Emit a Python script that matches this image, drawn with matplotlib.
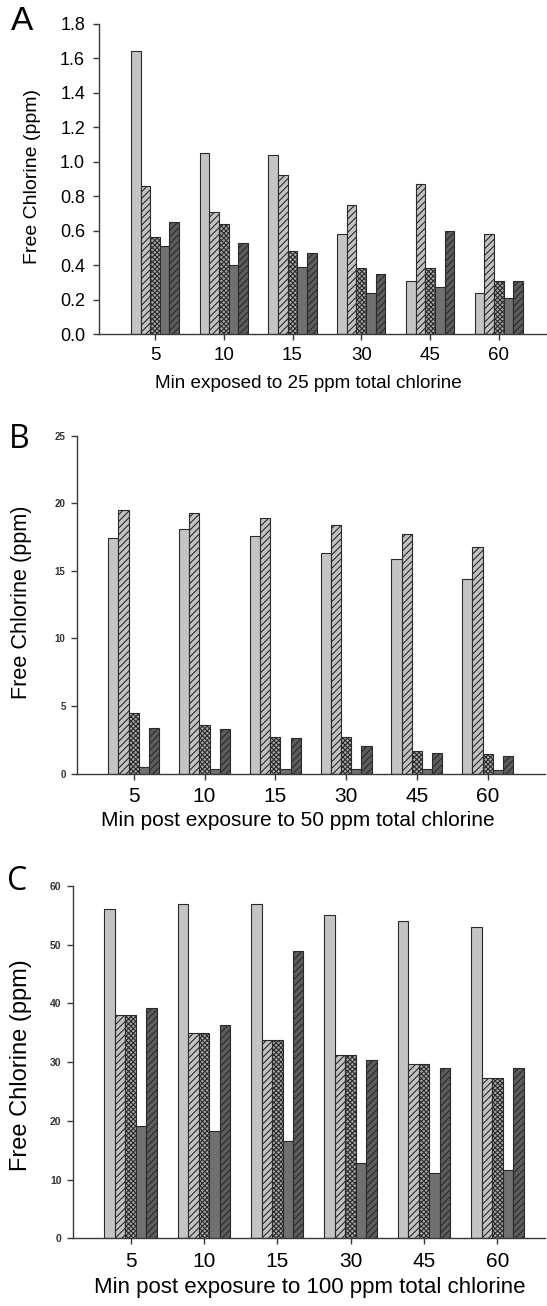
import matplotlib
matplotlib.use("Agg")
import matplotlib.pyplot as plt
import numpy as np

plt.rcParams['font.family'] = ['Liberation Sans', 'DejaVu Sans']
plt.rcParams['hatch.linewidth'] = 0.8

# ---------------- data ----------------
minutes = ['5', '10', '15', '30', '45', '60']

# Panel A: 25 ppm total chlorine
a_s1 = [1.64, 1.05, 1.04, 0.58, 0.31, 0.24]
a_s2 = [0.86, 0.71, 0.92, 0.75, 0.87, 0.58]
a_s3 = [0.56, 0.64, 0.48, 0.38, 0.38, 0.31]
a_s4 = [0.51, 0.40, 0.39, 0.24, 0.27, 0.21]
a_s5 = [0.65, 0.53, 0.47, 0.35, 0.60, 0.31]

# Panel B: 50 ppm total chlorine
b_s1 = [17.4, 18.1, 17.6, 16.3, 15.9, 14.4]
b_s2 = [19.5, 19.3, 18.9, 18.4, 17.7, 16.75]
b_s3 = [4.5, 3.6, 2.7, 2.7, 1.65, 1.45]
b_s4 = [0.5, 0.3, 0.3, 0.35, 0.35, 0.27]
b_s5 = [3.4, 3.3, 2.65, 2.0, 1.5, 1.3]

# Panel C: 100 ppm total chlorine
c_s1 = [56, 57, 57, 55, 54, 53]
c_s2 = [38.0, 35.0, 33.7, 31.3, 29.7, 27.3]
c_s3 = [38.0, 35.0, 33.7, 31.3, 29.7, 27.3]
c_s4 = [19.2, 18.2, 16.6, 12.8, 11.2, 11.6]
c_s5 = [39.3, 36.3, 49.0, 30.3, 29.0, 29.0]

# ---------------- styles ----------------
styles = [
    dict(color='#c4c4c4', hatch=None),
    dict(color='#c2c2c2', hatch='/////'),
    dict(color='#a8a8a8', hatch='xxxxxxx'),
    dict(color='#707070', hatch=None),
    dict(color='#5c5c5c', hatch='/////'),
]

W, H = 547, 1306
fig = plt.figure(figsize=(W / 100, H / 100), dpi=100)


def ax_at(left, right, top, bottom):
    return fig.add_axes([left / W, 1 - bottom / H, (right - left) / W, (bottom - top) / H])


def draw_panel(ax, series, ymax, yticks, yfmt, xlim, bw, ytick_kw, xtick_size):
    x = np.arange(len(minutes))
    for k, vals in enumerate(series):
        st = styles[k]
        ax.bar(x + (k - 2) * bw, vals, width=bw, color=st['color'],
               edgecolor='#2a2a2a', linewidth=0.8, hatch=st['hatch'], zorder=2)
    ax.set_xlim(*xlim)
    ax.set_ylim(0, ymax)
    ax.set_yticks(yticks)
    ax.set_yticklabels([yfmt.format(v) for v in yticks], **ytick_kw)
    ax.set_xticks(x)
    ax.set_xticklabels(minutes, fontsize=xtick_size)
    for s in ['top', 'right']:
        ax.spines[s].set_visible(False)
    for s in ['left', 'bottom']:
        ax.spines[s].set_color('#3a3a3a')
        ax.spines[s].set_linewidth(1.0)
    ax.tick_params(axis='both', direction='out', length=4, width=1.0, color='#3a3a3a')


# Panel A
axA = ax_at(99, 547, 23.5, 334)
draw_panel(axA, [a_s1, a_s2, a_s3, a_s4, a_s5], 1.8,
           [0.0, 0.2, 0.4, 0.6, 0.8, 1.0, 1.2, 1.4, 1.6, 1.8], '{:.1f}',
           (-0.814, 5.70), 0.14, dict(fontsize=13), 13.5)
axA.tick_params(axis='y', pad=6)
axA.tick_params(axis='x', pad=5)

# Panel B
axB = ax_at(76.7, 545, 435.7, 773.5)
draw_panel(axB, [b_s1, b_s2, b_s3, b_s4, b_s5], 25,
           [0, 5, 10, 15, 20, 25], '{:d}',
           (-0.806, 5.81), 0.144, dict(fontsize=7, fontweight='bold', color='#333333'), 15)
axB.tick_params(axis='y', pad=4)
axB.tick_params(axis='x', pad=6)

# Panel C
axC = ax_at(72.7, 545, 886, 1238.3)
draw_panel(axC, [c_s1, c_s2, c_s3, c_s4, c_s5], 60,
           [0, 10, 20, 30, 40, 50, 60], '{:d}',
           (-0.789, 5.65), 0.143, dict(fontsize=7.5, fontweight='bold', color='#333333'), 15)
axC.tick_params(axis='y', pad=4)
axC.tick_params(axis='x', pad=6)


def ftext(x, y, s, **kw):
    fig.text(x / W, 1 - y / H, s, **kw)


# x labels
ftext(308, 383, 'Min exposed to 25 ppm total chlorine', ha='center', va='center', fontsize=13.6)
ftext(298, 820, 'Min post exposure to 50 ppm total chlorine', ha='center', va='center', fontsize=15)
ftext(310, 1288, 'Min post exposure to 100 ppm total chlorine', ha='center', va='center', fontsize=16)

# y labels
ftext(33, 176, 'Free Chlorine (ppm)', ha='center', va='center', rotation=90, fontsize=14)
ftext(22, 602, 'Free Chlorine (ppm)', ha='center', va='center', rotation=90, fontsize=15.6)
ftext(21, 1065, 'Free Chlorine (ppm)', ha='center', va='center', rotation=90, fontsize=17)

# panel letters
ftext(22, 22, 'A', ha='center', va='center', fontsize=24)
ftext(19, 439, 'B', ha='center', va='center', fontsize=23, family=['Open Sans', 'DejaVu Sans'])
ftext(17, 881, 'C', ha='center', va='center', fontsize=23, family=['Open Sans', 'DejaVu Sans'])

fig.savefig('out.png', dpi=100)
